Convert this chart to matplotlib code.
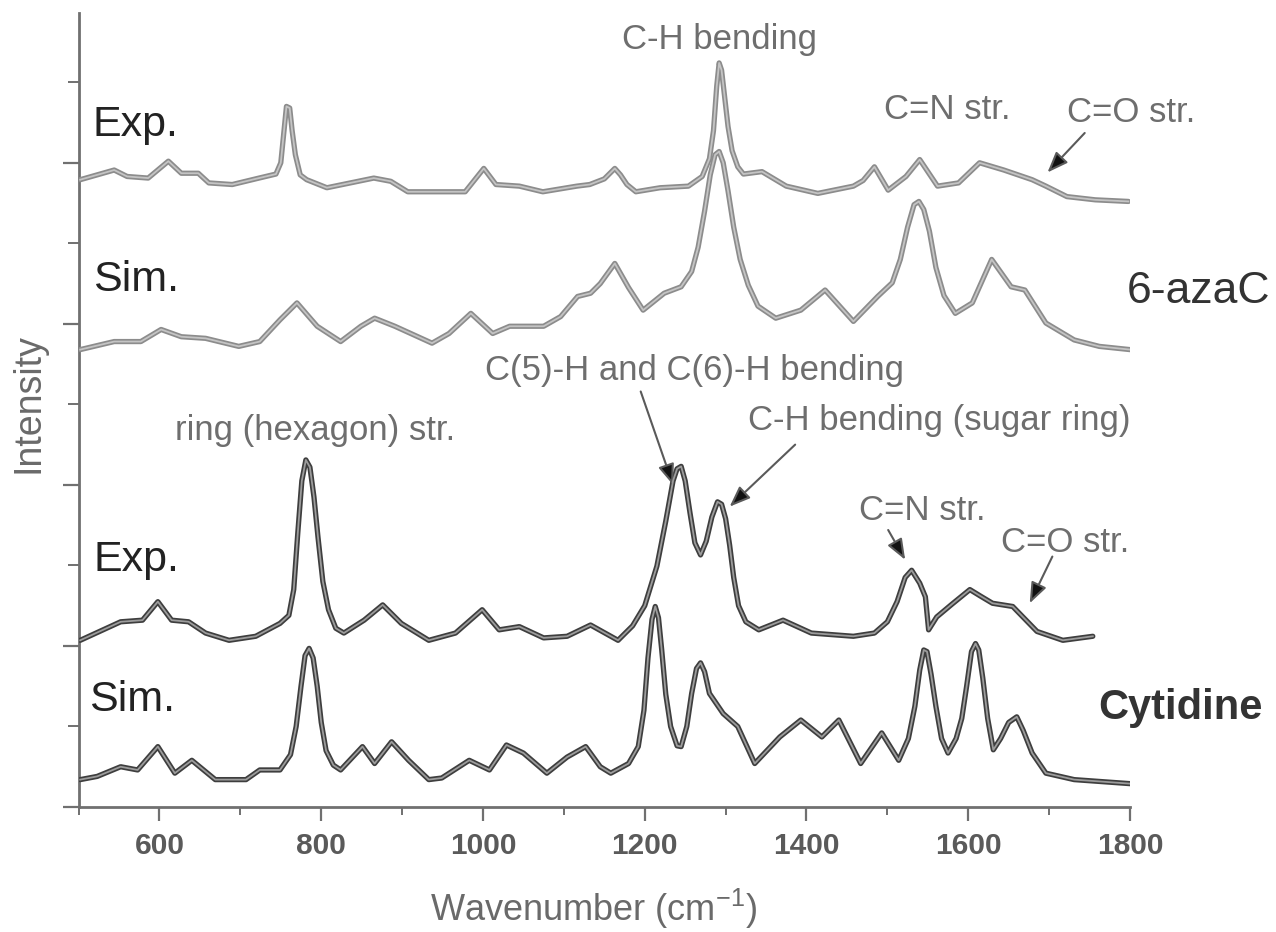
import matplotlib
matplotlib.use("Agg")
import matplotlib.pyplot as plt
from matplotlib.ticker import MultipleLocator

plt.rcParams['font.family'] = ['Liberation Sans', 'DejaVu Sans']
plt.rcParams['mathtext.fontset'] = 'custom'
plt.rcParams['mathtext.rm'] = 'Liberation Sans'
plt.rcParams['mathtext.default'] = 'regular'

# ---- Raman spectra (wavenumber in cm^-1, intensity offset in arbitrary units) ----
wn_exp_azac = [502, 544, 560, 586, 611, 627, 648, 661, 690, 723, 744, 750, 754, 757, 761,
               764, 768, 774, 782, 807, 836, 865, 886, 907, 950, 978, 1001, 1016, 1045,
               1074, 1116, 1132, 1150, 1156, 1163, 1170, 1178, 1189, 1219, 1254, 1271,
               1280, 1285, 1289, 1292, 1295, 1299, 1303, 1308, 1315, 1322, 1345, 1375,
               1414, 1458, 1470, 1484, 1501, 1523, 1540, 1562, 1588, 1614, 1644, 1679,
               1696, 1722, 1757, 1798]
int_exp_azac = [77.9, 79.1, 78.3, 78.1, 80.2, 78.7, 78.7, 77.5, 77.3, 78.1, 78.6, 80.0, 84.0,
                87.0, 86.8, 84.0, 81.0, 78.5, 77.9, 76.9, 77.5, 78.1, 77.7, 76.4, 76.4, 76.4,
                79.3, 77.3, 77.1, 76.4, 77.1, 77.3, 78.0, 78.6, 79.3, 78.5, 77.3, 76.4, 76.9,
                77.1, 78.3, 80.5, 84.0, 89.5, 92.4, 91.5, 88.0, 84.5, 81.5, 79.5, 78.6, 78.9,
                77.1, 76.2, 77.1, 77.8, 79.5, 76.6, 78.3, 80.4, 77.1, 77.5, 80.0, 79.1, 77.9,
                77.1, 75.8, 75.4, 75.2]

wn_sim_azac = [502, 544, 577, 602, 627, 657, 698, 724, 749, 770, 795, 824, 849, 866, 891,
               937, 958, 985, 1012, 1033, 1075, 1096, 1117, 1133, 1145, 1163, 1180, 1198,
               1224, 1245, 1258, 1266, 1274, 1281, 1287, 1292, 1297, 1303, 1310, 1318,
               1328, 1340, 1362, 1393, 1423, 1458, 1488, 1506, 1516, 1525, 1533, 1539,
               1545, 1552, 1560, 1570, 1584, 1605, 1629, 1653, 1670, 1696, 1731, 1762, 1800]
int_sim_azac = [56.8, 57.8, 57.8, 59.3, 58.4, 58.2, 57.2, 57.8, 60.5, 62.6, 59.7, 57.8, 59.7,
                60.7, 59.7, 57.6, 58.8, 61.3, 58.8, 59.7, 59.7, 60.9, 63.4, 63.8, 65.0, 67.5,
                64.5, 61.7, 63.8, 64.6, 66.5, 69.5, 74.0, 78.5, 81.0, 81.4, 80.0, 76.5, 72.0,
                68.0, 64.8, 62.2, 60.7, 61.7, 64.2, 60.3, 63.4, 65.1, 68.0, 72.0, 74.8, 75.2,
                74.2, 71.5, 67.0, 63.5, 61.3, 62.6, 68.0, 64.6, 64.2, 60.1, 58.0, 57.2, 56.8]

wn_exp_cyt = [502, 552, 579, 598, 615, 636, 657, 686, 719, 749, 760, 766, 771, 776, 781,
              786, 791, 796, 802, 809, 818, 828, 853, 876, 899, 933, 966, 999, 1020, 1045,
              1075, 1104, 1133, 1167, 1185, 1200, 1215, 1226, 1235, 1240, 1245, 1250, 1256,
              1262, 1269, 1276, 1283, 1290, 1295, 1300, 1305, 1310, 1316, 1325, 1341, 1371,
              1406, 1458, 1484, 1500, 1512, 1522, 1530, 1540, 1547, 1551, 1561, 1580, 1602,
              1615, 1630, 1655, 1685, 1717, 1754]
int_exp_cyt = [20.7, 23.0, 23.2, 25.5, 23.2, 23.0, 21.6, 20.7, 21.2, 22.8, 23.8, 27.0, 34.0,
               40.5, 43.1, 42.2, 38.5, 33.5, 28.0, 24.5, 22.2, 21.6, 23.2, 25.1, 22.8, 20.7,
               21.6, 24.5, 22.0, 22.4, 21.0, 21.2, 22.6, 20.7, 22.5, 25.0, 29.9, 35.5, 40.5,
               42.0, 42.3, 40.5, 36.5, 32.8, 31.3, 33.0, 36.0, 37.9, 37.6, 35.8, 32.5, 28.5,
               25.0, 23.0, 22.0, 23.2, 21.6, 21.2, 21.6, 23.0, 25.5, 28.5, 29.4, 27.8, 26.1,
               22.0, 23.6, 25.2, 27.0, 26.2, 25.3, 24.9, 21.8, 20.7, 21.2]

wn_sim_cyt = [502, 523, 552, 573, 598, 619, 640, 669, 707, 724, 749, 762, 769, 775, 780,
              785, 790, 795, 800, 806, 815, 824, 851, 866, 887, 908, 933, 949, 983, 1008,
              1029, 1050, 1079, 1104, 1127, 1145, 1158, 1180, 1192, 1199, 1204, 1209, 1213,
              1217, 1221, 1226, 1232, 1240, 1245, 1252, 1258, 1264, 1269, 1274, 1280, 1297,
              1315, 1336, 1367, 1393, 1419, 1440, 1467, 1493, 1514, 1526, 1534, 1540, 1545,
              1549, 1554, 1560, 1567, 1575, 1585, 1592, 1598, 1604, 1609, 1613, 1618, 1624,
              1631, 1640, 1650, 1660, 1668, 1679, 1696, 1731, 1800]
int_sim_cyt = [3.4, 3.8, 5.0, 4.6, 7.5, 4.2, 5.8, 3.4, 3.4, 4.6, 4.6, 6.5, 10.0, 15.0, 18.8,
               19.7, 18.5, 15.0, 10.5, 7.0, 5.2, 4.6, 7.5, 5.4, 8.1, 5.8, 3.4, 3.6, 5.8, 4.6,
               7.7, 6.7, 4.2, 6.2, 7.5, 5.0, 4.2, 5.4, 7.5, 12.0, 18.5, 23.3, 24.9, 23.5, 19.5,
               14.0, 10.0, 7.6, 7.5, 10.0, 14.1, 17.2, 17.9, 16.8, 14.1, 11.6, 10.0, 5.4, 8.7,
               10.8, 8.7, 10.8, 5.4, 9.2, 5.8, 8.5, 12.5, 17.0, 19.5, 19.3, 16.5, 12.5, 8.5,
               6.7, 8.5, 11.0, 15.0, 19.3, 20.3, 19.5, 16.0, 11.0, 7.1, 8.5, 10.5, 11.2, 9.5,
               6.7, 4.2, 3.4, 2.9]

x_ticks = [600, 800, 1000, 1200, 1400, 1600, 1800]

W, H = 1276, 932
fig = plt.figure(figsize=(W / 100, H / 100), dpi=100)
ax = fig.add_axes([78.6 / W, 1 - 807 / H, (1130 - 78.6) / W, (807 - 13) / H])

light = ('#8c8c8c', '#c4c4c4')
dark = ('#3e3e3e', '#9c9c9c')
for xs, ys, (outer, inner) in [(wn_exp_azac, int_exp_azac, light),
                               (wn_sim_azac, int_sim_azac, light),
                               (wn_exp_cyt, int_exp_cyt, dark),
                               (wn_sim_cyt, int_sim_cyt, dark)]:
    ax.plot(xs, ys, color=outer, lw=3.8, solid_joinstyle='round', solid_capstyle='round',
            zorder=3)
    ax.plot(xs, ys, color=inner, lw=1.3, solid_joinstyle='round', zorder=4)

ax.set_xlim(500, 1800)
ax.set_ylim(0, 98.6)
ax.set_xticks(x_ticks)
ax.set_xticklabels([str(t) for t in x_ticks])
ax.xaxis.set_minor_locator(MultipleLocator(100))
ax.yaxis.set_major_locator(MultipleLocator(20))
ax.yaxis.set_minor_locator(MultipleLocator(10))
ax.tick_params(axis='y', labelleft=False)

for s in ('top', 'right'):
    ax.spines[s].set_visible(False)
for s in ('left', 'bottom'):
    ax.spines[s].set_color('#707070')
    ax.spines[s].set_linewidth(2.0)

ax.tick_params(which='major', direction='out', color='#707070', width=1.6)
ax.tick_params(which='minor', direction='out', color='#707070', width=1.4)
ax.tick_params(axis='x', which='major', length=10, pad=8, labelsize=21.5,
               labelcolor='#5a5a5a')
ax.tick_params(axis='x', which='minor', length=6)
ax.tick_params(axis='y', which='major', length=11.5)
ax.tick_params(axis='y', which='minor', length=8)
for lab in ax.get_xticklabels():
    lab.set_fontweight('bold')

fig.text(594 / W, 1 - 909 / H, 'Wavenumber (cm$^{-1}$)', ha='center', va='center',
         fontsize=26, color='#6a6a6a')
fig.text(28 / W, 1 - 403 / H, 'Intensity', ha='center', va='center', rotation=90,
         fontsize=27, color='#6a6a6a')

gray = '#6e6e6e'
ann = dict(ha='center', va='center', fontsize=25, color=gray, clip_on=False)
ax.text(1293, 95.3, 'C-H bending', **ann)
ax.text(1574, 86.6, 'C=N str.', **ann)
ax.text(1802, 86.2, 'C=O str.', **ann)
ax.text(792, 46.8, 'ring (hexagon) str.', **ann)
ax.text(1261, 54.2, 'C(5)-H and C(6)-H bending', **ann)
ax.text(1564, 48.0, 'C-H bending (sugar ring)', **ann)
ax.text(1543, 36.8, 'C=N str.', **ann)
ax.text(1720, 32.9, 'C=O str.', **ann)

lab = dict(ha='center', va='center', fontsize=31, color='#222222', clip_on=False)
ax.text(570, 84.7, 'Exp.', **lab)
ax.text(571, 65.5, 'Sim.', **lab)
ax.text(572, 30.7, 'Exp.', **lab)
ax.text(566, 13.3, 'Sim.', **lab)
ax.text(1885, 64.0, '6-azaC', ha='center', va='center', fontsize=32, color='#333333',
        clip_on=False)
ax.text(1862, 12.3, 'Cytidine', ha='center', va='center', fontsize=30, color='#333333',
        fontweight='bold', clip_on=False)

arrow = dict(arrowstyle='-|>,head_length=0.9,head_width=0.35', ec='#5a5a5a', fc='#111111',
             lw=1.5, mutation_scale=14, shrinkA=0, shrinkB=0)
for start, tip in [((1744, 83.7), (1698, 78.8)),
                   ((1195, 51.6), (1235, 40.0)),
                   ((1386, 45.0), (1305, 37.3)),
                   ((1501, 34.4), (1522, 30.7)),
                   ((1704, 31.1), (1676, 25.3))]:
    ax.annotate('', xy=tip, xytext=start, arrowprops=arrow, annotation_clip=False)

fig.savefig('out.png', dpi=100, facecolor='white')
